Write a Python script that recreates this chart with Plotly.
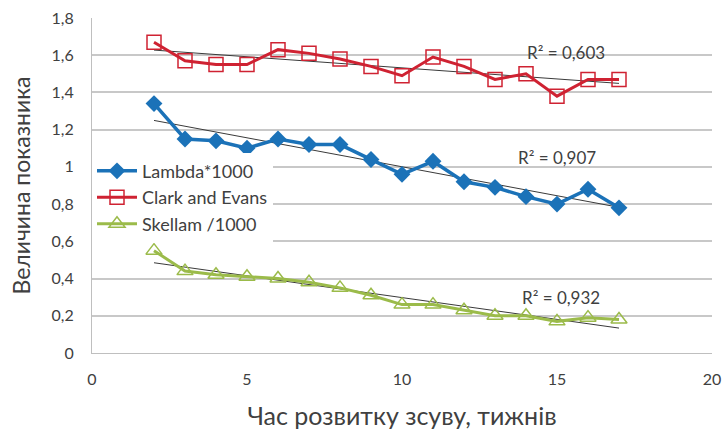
import numpy as np
import plotly.graph_objects as go

weeks = list(range(2, 18))
lambda_vals = [1.34, 1.15, 1.14, 1.10, 1.15, 1.12, 1.12, 1.04, 0.96, 1.03, 0.92, 0.89, 0.84, 0.80, 0.88, 0.78]
clark_vals = [1.67, 1.57, 1.55, 1.55, 1.63, 1.61, 1.58, 1.54, 1.49, 1.59, 1.54, 1.47, 1.50, 1.38, 1.47, 1.47]
skellam_vals = [0.55, 0.44, 0.42, 0.41, 0.40, 0.38, 0.35, 0.31, 0.26, 0.26, 0.23, 0.20, 0.20, 0.17, 0.19, 0.18]

r2_labels = ["R² = 0,603", "R² = 0,907", "R² = 0,932"]
r2_pos = [(15.3, 1.612), (15.0, 1.048), (15.13, 0.30)]

BLUE = "#1b72b8"
RED = "#cf2232"
GREEN = "#9bbb4a"
TEXT = "#404040"
FONT = "Lato, 'Open Sans', sans-serif"

fig = go.Figure()

# linear trend lines for each series
for ys in (lambda_vals, clark_vals, skellam_vals):
    k, b = np.polyfit(weeks, ys, 1)
    xs = np.array([weeks[0], weeks[-1]])
    fig.add_trace(go.Scatter(x=xs, y=k * xs + b, mode="lines",
                             line=dict(color="#3a3a3a", width=1),
                             showlegend=False, hoverinfo="skip"))

fig.add_trace(go.Scatter(x=weeks, y=lambda_vals, mode="lines+markers", name="Lambda*1000",
                         line=dict(color=BLUE, width=3.5),
                         marker=dict(symbol="diamond", size=13, color=BLUE)))
fig.add_trace(go.Scatter(x=weeks, y=clark_vals, mode="lines+markers", name="Clark and Evans",
                         line=dict(color=RED, width=3),
                         marker=dict(symbol="square-open", size=14, color=RED, line=dict(width=1.5))))
fig.add_trace(go.Scatter(x=weeks, y=skellam_vals, mode="lines+markers", name="Skellam /1000",
                         line=dict(color=GREEN, width=3),
                         marker=dict(symbol="triangle-up-open", size=14, color=GREEN, line=dict(width=1.5))))

for txt, (ax, ay) in zip(r2_labels, r2_pos):
    fig.add_annotation(x=ax, y=ay, text=txt, showarrow=False,
                       font=dict(family=FONT, size=17, color=TEXT))

fig.update_layout(
    width=726, height=432,
    margin=dict(l=92, r=14, t=18, b=79),
    paper_bgcolor="white", plot_bgcolor="white",
    font=dict(family=FONT, color=TEXT),
    legend=dict(x=0.0, y=0.598, xanchor="left", yanchor="top",
                bgcolor="white", font=dict(family=FONT, size=18, color=TEXT),
                tracegroupgap=0, itemwidth=40, entrywidth=170),
    xaxis=dict(range=[0, 20], tickvals=[0, 5, 10, 15, 20], showgrid=False,
               showline=True, linecolor="#bfbfbf", mirror=False, zeroline=False,
               automargin=False,
               tickfont=dict(size=16, color=TEXT), ticks="", ticklabelstandoff=12,
               title=dict(text="Час розвитку зсуву, тижнів", font=dict(size=25, color=TEXT),
                          standoff=20)),
    yaxis=dict(range=[0, 1.8], tickvals=[0, 0.2, 0.4, 0.6, 0.8, 1, 1.2, 1.4, 1.6, 1.8],
               ticktext=["0", "0,2", "0,4", "0,6", "0,8", "1", "1,2", "1,4", "1,6", "1,8"],
               showgrid=True, gridcolor="#c8c8c8", gridwidth=1.5,
               showline=True, linecolor="#bfbfbf", mirror=False, zeroline=False,
               automargin=False,
               tickfont=dict(size=16, color=TEXT), ticks="", ticklabelstandoff=14,
               title=dict(text="Величина показника", font=dict(size=23, color=TEXT),
                          standoff=14)),
)

fig.write_html("out.html")
